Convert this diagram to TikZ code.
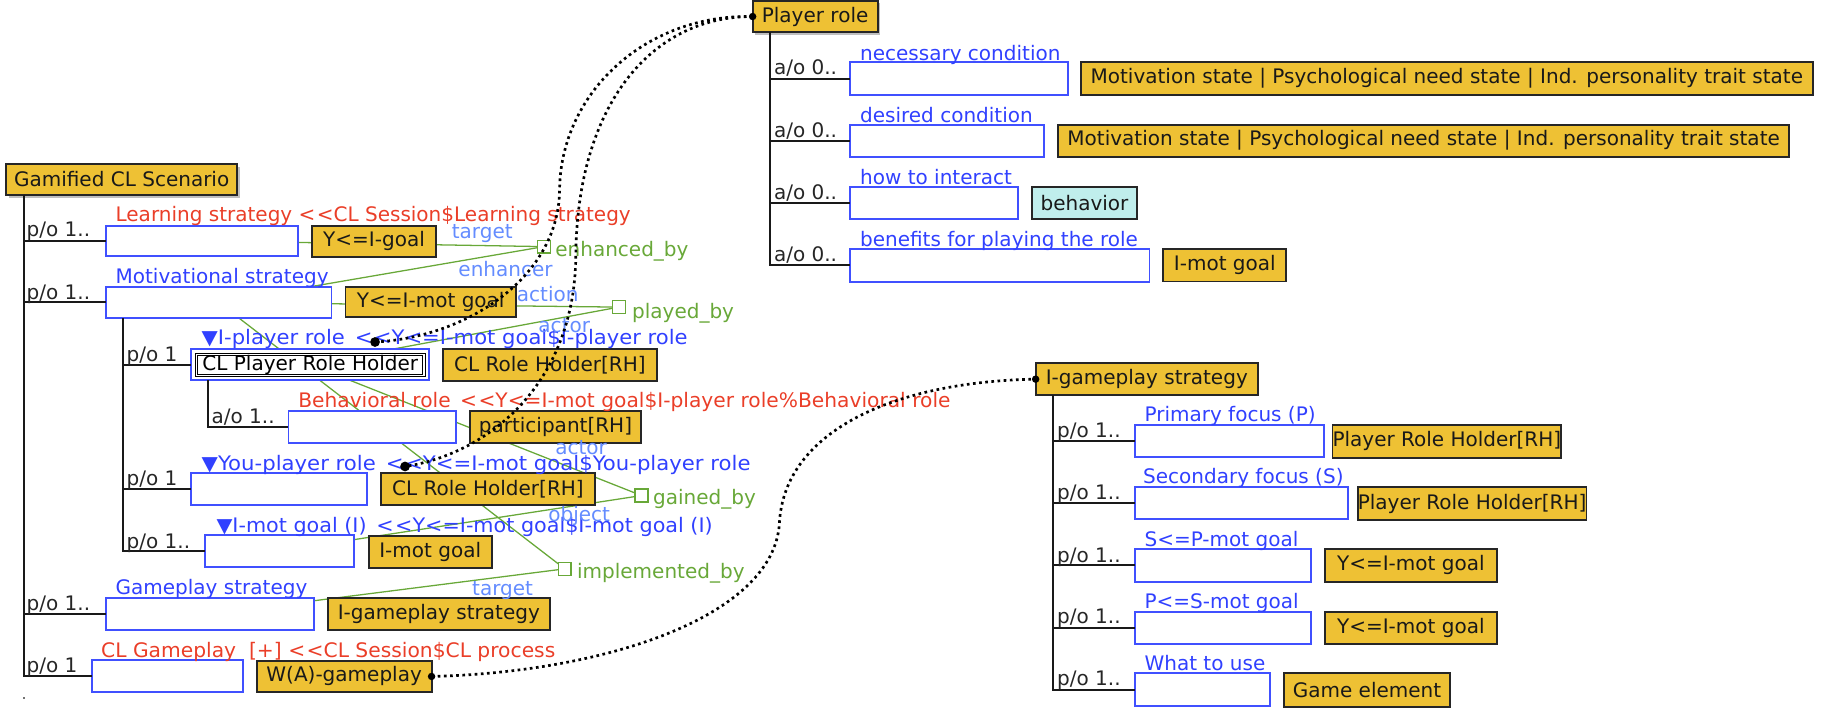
\documentclass[tikz,border=0pt]{standalone}
\usepackage{fontspec}
\setmainfont{DejaVu Sans}
\usetikzlibrary{calc,shadows}
\pgfdeclarelayer{bg}
\pgfdeclarelayer{fg}
\pgfsetlayers{bg,main,fg}
\definecolor{yel}{RGB}{238,193,52}
\definecolor{slotblue}{RGB}{64,80,255}
\definecolor{labblue}{RGB}{48,64,255}
\definecolor{labred}{RGB}{234,62,40}
\definecolor{grn}{RGB}{104,168,56}
\definecolor{roleblue}{RGB}{100,140,255}
\definecolor{cyanfill}{RGB}{192,238,236}
\newcommand\dlt{<\kern0.6pt<}
\newcommand\gap{\hspace{1.3pt}}
\newcommand\mkbox[7]{\node[#1, minimum width={(#4-#2)*0.5pt}, minimum height={(#5-#3)*0.5pt}] (#6) at ({(#2+#4)/2},{(#3+#5)/2}) {#7};}
\tikzset{
  slot/.style={draw=slotblue, fill=white, line width=0.8pt, inner sep=0pt, outer sep=0pt},
  typebox/.style={draw=black!85, fill=yel, line width=0.8pt, inner sep=0pt, outer sep=0pt, text=black!90},
  topbox/.style={typebox, drop shadow={shadow xshift=1.2pt, shadow yshift=-1.2pt, fill=black!50}},
  cyanbox/.style={typebox, fill=cyanfill},
  fillerbox/.style={draw=black, double=white, double distance=0.6pt, line width=0.45pt, fill=white, inner sep=0pt, outer sep=0pt},
  assoc/.style={draw=grn, fill=white, line width=0.6pt, minimum size=5.5pt, inner sep=0pt},
  rel/.style={draw=grn, line width=0.55pt},
  tree/.style={draw=black!90, line width=0.85pt},
  bluelab/.style={anchor=base west, text=labblue, inner sep=0pt},
  redlab/.style={anchor=base west, text=labred, inner sep=0pt},
  rolelab/.style={anchor=base west, text=roleblue, inner sep=0pt},
  assoclab/.style={anchor=base west, text=grn, inner sep=0pt},
  mult/.style={anchor=base west, text=black!85, inner sep=0pt},
  dotline/.style={line width=1.15pt, dash pattern=on 1.15pt off 1.5pt},
  enddot/.style={circle, fill=black, inner sep=0pt, minimum size=#1},
  enddot/.default=3.2pt
}
\begin{document}
\begin{tikzpicture}[x=0.5pt,y=-0.5pt, font=\fontsize{8.6}{10}\selectfont]
\useasboundingbox (0,0) rectangle (1568,616);

% ---------------- left tree ----------------
\mkbox{topbox}{5.2}{141}{204}{167.6}{gcs}{Gamified CL Scenario}
\mkbox{slot}{91}{194}{256}{220}{ls}{}
\mkbox{slot}{91}{246.5}{285}{273.5}{ms}{}
\mkbox{slot}{164}{300}{369}{326.7}{ipr}{}
\mkbox{fillerbox}{169}{304.6}{364.5}{323}{cprh}{CL Player Role Holder}
\mkbox{slot}{248}{353}{392}{380.5}{beh}{}
\mkbox{slot}{164}{406.8}{315.7}{434.3}{ypr}{}
\mkbox{slot}{176}{460}{304.6}{487.4}{imot}{}
\mkbox{slot}{91}{514}{270}{541.6}{gs}{}
\mkbox{slot}{78.8}{567.4}{208.6}{594.8}{clg}{}

\mkbox{typebox}{268}{194}{375}{220.6}{t1}{Y<=I-goal}
\mkbox{typebox}{297}{246.5}{443.6}{272.5}{t2}{Y<=I-mot goal}
\mkbox{typebox}{381}{300}{564.5}{327.5}{t3}{CL Role Holder[RH]}
\mkbox{typebox}{404}{353.4}{551}{381}{t4}{participant[RH]}
\mkbox{typebox}{327.5}{406.8}{511.5}{434}{t5}{CL Role Holder[RH]}
\mkbox{typebox}{317}{460.5}{422.6}{488}{t6}{I-mot goal}
\mkbox{typebox}{281.7}{513.8}{472.8}{541.6}{t7}{I-gameplay strategy}
\mkbox{typebox}{220.7}{568}{371}{595}{wag}{W(A)-gameplay}

\node[redlab] (lls) at (99,190.6) {Learning strategy \dlt CL Session\$Learning strategy};
\node[bluelab] (lms) at (99,244) {Motivational strategy};
\node[bluelab, xscale=1.055] (lipr) at (173,296) {▼I-player role \gap\dlt Y<=I-mot goal\$I-player role};
\node[redlab, xscale=1.01] (lbeh) at (256,350) {Behavioral role \gap\dlt Y<=I-mot goal\$I-player role\%Behavioral role};
\node[bluelab, xscale=1.06] (lypr) at (173,404.6) {▼You-player role \gap\dlt Y<=I-mot goal\$You-player role};
\node[bluelab, xscale=1.035] (limot) at (185.7,458) {▼I-mot goal (I) \gap\dlt Y<=I-mot goal\$I-mot goal (I)};
\node[bluelab] (lgs) at (99,510.8) {Gameplay strategy};
\node[redlab, xscale=1.012] (lclg) at (86.6,565) {CL Gameplay\ \ [+] \dlt CL Session\$CL process};

\draw[tree] ($(gcs.south west)+(15.4,0)$) |- (ls.west);
\draw[tree] ($(gcs.south west)+(15.4,0)$) |- (ms.west);
\draw[tree] ($(gcs.south west)+(15.4,0)$) |- (gs.west);
\draw[tree] ($(gcs.south west)+(15.4,0)$) |- (clg.west);
\draw[tree] ($(ms.south west)+(15,0)$) |- (ipr.west);
\draw[tree] ($(ms.south west)+(15,0)$) |- (ypr.west);
\draw[tree] ($(ms.south west)+(15,0)$) |- (imot.west);
\draw[tree] ($(ipr.south west)+(15,0)$) |- (beh.west);

\node[mult] (m1) at (22.5,203) {p/o 1..};
\node[mult] (m2) at (22.5,257.6) {p/o 1..};
\node[mult] (m3) at (108.5,310.5) {p/o 1};
\node[mult] (m4) at (181.5,363.8) {a/o 1..};
\node[mult] (m5) at (108.5,417.6) {p/o 1};
\node[mult] (m6) at (108.5,471.2) {p/o 1..};
\node[mult] (m7) at (22.5,524.5) {p/o 1..};
\node[mult] (m8) at (22.5,578) {p/o 1};
\fill[black!55] (19.8,599.4) rectangle (21.2,600.6);

% ---------------- associations ----------------
\node[assoc] (enh) at (467.5,212) {};
\node[assoc] (played) at (532,264) {};
\node[assoc] (gained) at (551.5,426) {};
\node[assoc] (impl) at (485.5,489) {};
\node[assoclab] (lenh) at (477,220.7) {enhanced\_by};
\node[assoclab] (lplayed) at (543,273.5) {played\_by};
\node[assoclab] (lgained) at (561,434) {gained\_by};
\node[assoclab] (limpl) at (495.7,497) {implemented\_by};

\begin{pgfonlayer}{bg}
\draw[rel] (ls.center) -- (enh.center);
\draw[rel] (ms.center) -- (enh.center);
\draw[rel] (ms.center) -- (played.center);
\draw[rel] (ipr.center) -- (played.center);
\draw[rel] (ipr.center) -- (gained.center);
\draw[rel] (imot.center) -- (gained.center);
\draw[rel] (ms.center) -- (impl.center);
\draw[rel] (gs.center) -- (impl.center);
\end{pgfonlayer}

\node[rolelab] (r1) at (388,204.9) {target};
\node[rolelab] (r2) at (393.7,237.8) {enhancer};
\node[rolelab] (r3) at (444,258.8) {action};
\node[rolelab] (r4) at (462.5,286) {actor};
\node[rolelab] (r5) at (477,391) {actor};
\node[rolelab] (r6) at (471,448) {object};
\node[rolelab] (r7) at (405.5,511.5) {target};

% ---------------- Player role ----------------
\mkbox{topbox}{647}{0.6}{754.4}{27.8}{prole}{Player role}
\mkbox{slot}{730.7}{53.6}{918}{81.7}{nc}{}
\mkbox{slot}{730.7}{107.2}{897.5}{134.7}{dc}{}
\mkbox{slot}{730.7}{161}{875}{188.5}{hi}{}
\mkbox{slot}{730.7}{214.3}{988.2}{242.1}{bp}{}
\mkbox{typebox}{929.3}{53.6}{1558.2}{81.7}{pt1}{Motivation state | Psychological need state | Ind. personality trait state}
\mkbox{typebox}{909.4}{107.2}{1538.2}{134.7}{pt2}{Motivation state | Psychological need state | Ind. personality trait state}
\mkbox{cyanbox}{887}{161}{977.5}{188.5}{pt3}{behavior}
\mkbox{typebox}{1000}{214.3}{1105.8}{242}{pt4}{I-mot goal}
\node[bluelab] (lnc) at (739,51.6) {necessary condition};
\node[bluelab] (ldc) at (739,105) {desired condition};
\node[bluelab] (lhi) at (739,158.2) {how to interact};
\node[bluelab] (lbp) at (739,212) {benefits for playing the role};
\draw[tree] ($(prole.south west)+(15.3,0)$) |- (nc.west);
\draw[tree] ($(prole.south west)+(15.3,0)$) |- (dc.west);
\draw[tree] ($(prole.south west)+(15.3,0)$) |- (hi.west);
\draw[tree] ($(prole.south west)+(15.3,0)$) |- (bp.west);
\node[mult] (pm1) at (665,64.3) {a/o 0..};
\node[mult] (pm2) at (665,118) {a/o 0..};
\node[mult] (pm3) at (665,171.8) {a/o 0..};
\node[mult] (pm4) at (665,224.8) {a/o 0..};

% ---------------- I-gameplay strategy ----------------
\mkbox{typebox}{890.3}{312.3}{1081.4}{339.6}{igs}{I-gameplay strategy}
\mkbox{slot}{975.7}{365.3}{1138.2}{393.1}{pf}{}
\mkbox{slot}{975.7}{419}{1159}{446.4}{sf}{}
\mkbox{slot}{975.7}{472.2}{1127}{500}{spm}{}
\mkbox{slot}{975.7}{525.8}{1127}{553.6}{psm}{}
\mkbox{slot}{975.7}{578.8}{1091.7}{606.9}{wu}{}
\mkbox{typebox}{1149.6}{365.3}{1338}{393.4}{gt1}{Player Role Holder[RH]}
\mkbox{typebox}{1171}{419}{1360}{447}{gt2}{Player Role Holder[RH]}
\mkbox{typebox}{1139}{472.2}{1286.6}{500}{gt3}{Y<=I-mot goal}
\mkbox{typebox}{1139}{525.8}{1286.6}{553.6}{gt4}{Y<=I-mot goal}
\mkbox{typebox}{1103.8}{578.8}{1246.5}{607.5}{gt5}{Game element}
\node[bluelab] (lpf) at (983.5,362.5) {Primary focus (P)};
\node[bluelab] (lsf) at (982.3,416) {Secondary focus (S)};
\node[bluelab] (lspm) at (983.5,469.4) {S<=P-mot goal};
\node[bluelab] (lpsm) at (983.5,523) {P<=S-mot goal};
\node[bluelab] (lwu) at (983.5,576) {What to use};
\draw[tree] ($(igs.south west)+(15.2,0)$) |- (pf.west);
\draw[tree] ($(igs.south west)+(15.2,0)$) |- (sf.west);
\draw[tree] ($(igs.south west)+(15.2,0)$) |- (spm.west);
\draw[tree] ($(igs.south west)+(15.2,0)$) |- (psm.west);
\draw[tree] ($(igs.south west)+(15.2,0)$) |- (wu.west);
\node[mult] (gm1) at (908.4,376) {p/o 1..};
\node[mult] (gm2) at (908.4,429.7) {p/o 1..};
\node[mult] (gm3) at (908.4,483.3) {p/o 1..};
\node[mult] (gm4) at (908.4,536.3) {p/o 1..};
\node[mult] (gm5) at (908.4,589.6) {p/o 1..};

% ---------------- dotted links ----------------
\coordinate (iprdot) at (322.4,294);
\coordinate (yprdot) at (348.2,401);
\begin{pgfonlayer}{fg}
\draw[dotline] (prole.west) .. controls (555,12) and (481,80) .. (481,165) .. controls (479,240) and (400,290) .. (iprdot);
\draw[dotline] (prole.west) .. controls (560,14) and (496,90) .. (495,220) .. controls (494,330) and (420,390) .. (yprdot);
\draw[dotline] (wag.east) .. controls (520,578) and (665,530) .. (670,450) .. controls (674,370) and (770,328) .. (igs.west);
\node[enddot] (d1) at (prole.west) {};
\node[enddot=4.2pt] (d2) at (iprdot) {};
\node[enddot=4.2pt] (d3) at (yprdot) {};
\node[enddot] (d4) at (wag.east) {};
\node[enddot] (d5) at (igs.west) {};
\end{pgfonlayer}
\end{tikzpicture}
\end{document}
